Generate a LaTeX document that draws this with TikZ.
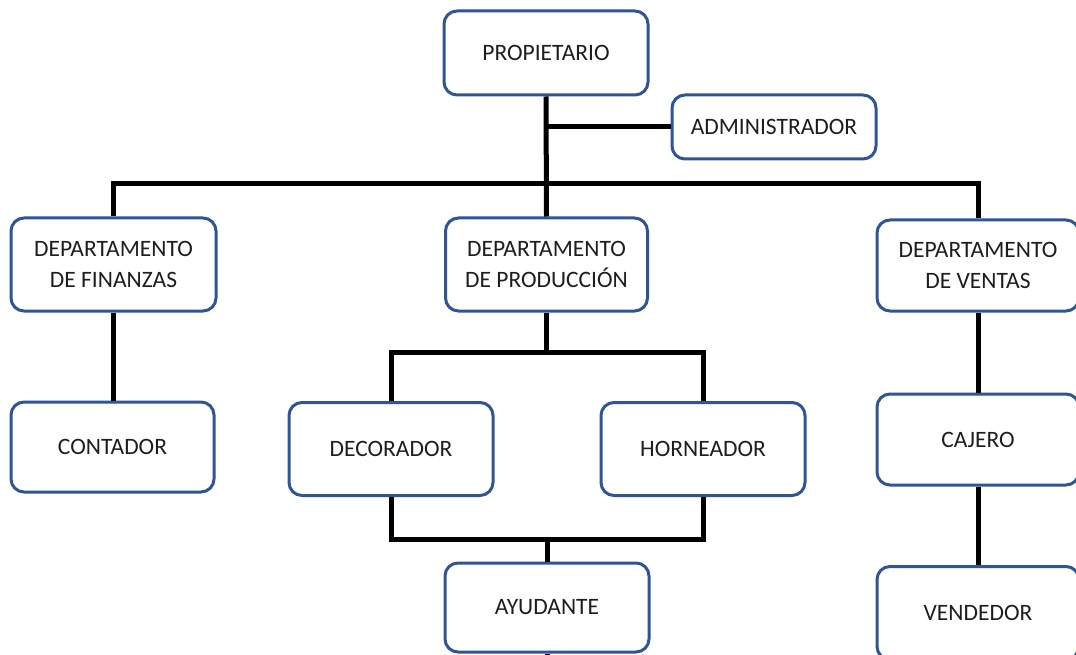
\documentclass[tikz,border=0pt]{standalone}
\usepackage{fontspec}
\setmainfont{Carlito}
\definecolor{boxblue}{RGB}{47,85,151}
\definecolor{labelgray}{RGB}{30,30,30}
\begin{document}
\begin{tikzpicture}[x=1pt,y=-1pt,
  orgbox/.style={draw=boxblue, line width=3pt, rounded corners=13pt, fill=white,
    inner sep=0pt, align=center, text=labelgray,
    font=\fontsize{23.5}{31}\selectfont},
  link/.style={draw=black, line width=5pt}]
\clip (0,0) rectangle (1076,655);
\fill[white] (0,0) rectangle (1076,655);

% boxes
\node[orgbox, minimum width=204pt, minimum height=84pt] (prop) at (546,53) {PROPIETARIO};
\node[orgbox, minimum width=204pt, minimum height=64pt] (admin) at (774,127) {ADMINISTRADOR};
\node[orgbox, minimum width=205pt, minimum height=93pt] (fin) at (113.5,264.5) {DEPARTAMENTO\\DE FINANZAS};
\node[orgbox, minimum width=202pt, minimum height=93pt] (prod) at (546.5,264.5) {DEPARTAMENTO\\DE PRODUCCIÓN};
\node[orgbox, minimum width=202pt, minimum height=91pt] (ventas) at (978,265.5) {DEPARTAMENTO\\DE VENTAS};
\node[orgbox, minimum width=203pt, minimum height=90pt] (contador) at (112.5,447) {CONTADOR};
\node[orgbox, minimum width=204pt, minimum height=93pt] (decor) at (391,449) {DECORADOR};
\node[orgbox, minimum width=204pt, minimum height=93pt] (horn) at (703,449) {HORNEADOR};
\node[orgbox, minimum width=204pt, minimum height=89pt] (ayud) at (547,607.5) {AYUDANTE};
\node[orgbox, minimum width=202pt, minimum height=91pt] (cajero) at (978,439.5) {CAJERO};
\node[orgbox, minimum width=202pt, minimum height=93pt] (vend) at (978,613) {VENDEDOR};

% junction points
\coordinate (topbus) at (546,184);
\coordinate (prodbus) at (546.5,352);
\coordinate (helpbus) at (547,539);
\coordinate (ayudtail) at (547,680);

% connectors
\draw[link] (prop.south) -- (prod.north);
\draw[link] (prop.south |- admin.west) -- (admin.west);
\draw[link] (fin.north) |- (topbus) -| (ventas.north);
\draw[link] (fin.south) -- (fin.south |- contador.north);
\draw[link] (prod.south) -- (prodbus);
\draw[link] (decor.north) |- (prodbus) -| (horn.north);
\draw[link] (decor.south) |- (helpbus) -| (horn.south);
\draw[link] (helpbus) -- (ayud.north);
\draw[link] (ayud.south) -- (ayudtail);
\draw[link] (ventas.south) -- (cajero.north);
\draw[link] (cajero.south) -- (vend.north);
\end{tikzpicture}
\end{document}
